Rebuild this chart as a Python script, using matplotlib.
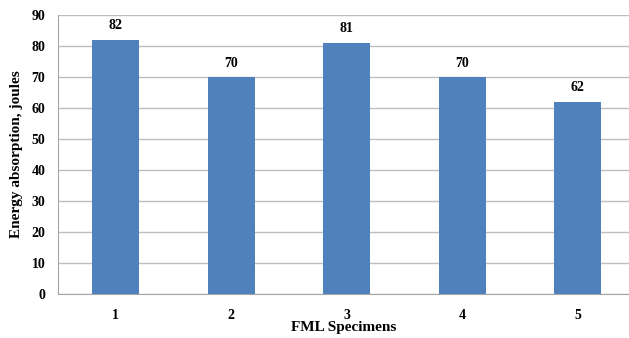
import matplotlib.pyplot as plt

specimens = ["1", "2", "3", "4", "5"]
energy = [82, 70, 81, 70, 62]
yticks = [0, 10, 20, 30, 40, 50, 60, 70, 80, 90]

plt.rcParams["font.family"] = ["Liberation Serif", "DejaVu Serif"]
plt.rcParams["font.weight"] = "bold"

fig = plt.figure(figsize=(6.29, 3.38), dpi=100)
ax = fig.add_axes([58 / 629, 1 - 294 / 338, 1 - 58 / 629, (294 - 15) / 338])

x = list(range(1, len(specimens) + 1))
bars = ax.bar(x, energy, width=0.41, color="#4F81BD", zorder=3)
for xi, v in zip(x, energy):
    ax.text(xi, v + 2.4, str(v), ha="center", va="bottom", fontsize=10, fontweight="bold")

ax.set_xlim(0.5, 0.5 + (629 - 58) / 115.5)
ax.set_ylim(0, 90)
ax.set_yticks(yticks)
ax.set_xticks(x)
ax.set_xticklabels(specimens)
ax.grid(axis="y", color="#BFBFBF", linewidth=1, zorder=0)
for s in ["top", "right"]:
    ax.spines[s].set_visible(False)
ax.spines["left"].set_color("#A6A6A6")
ax.spines["bottom"].set_color("#A6A6A6")
ax.tick_params(axis="both", length=0, labelsize=10)
ax.tick_params(axis="x", pad=11)
ax.tick_params(axis="y", pad=9)
ax.set_xlabel("FML Specimens", fontsize=11, fontweight="bold", labelpad=-1)
ax.set_ylabel("Energy absorption, joules", fontsize=11, fontweight="bold", labelpad=6)

fig.savefig("out.png", dpi=100)
